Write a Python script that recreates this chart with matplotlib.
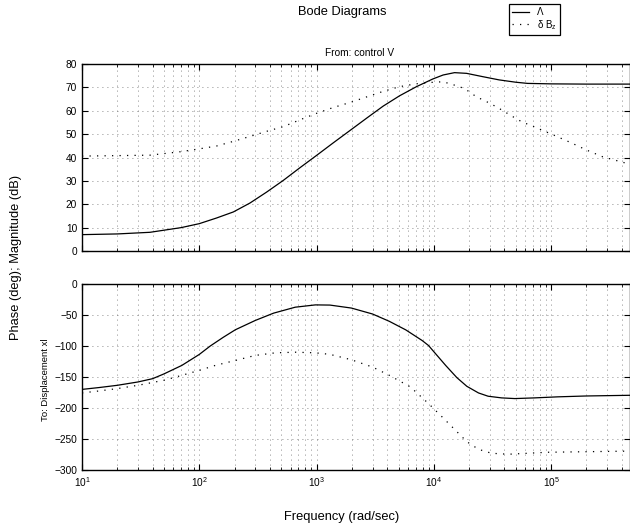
import numpy as np
import matplotlib
matplotlib.use('Agg')
import matplotlib.pyplot as plt
from matplotlib.ticker import LogLocator, NullFormatter

plt.rcParams['font.family'] = ['Liberation Sans', 'DejaVu Sans']
plt.rcParams['mathtext.fontset'] = 'custom'
plt.rcParams['mathtext.rm'] = 'Liberation Sans'
plt.rcParams['mathtext.it'] = 'Liberation Sans:italic'

# Magnitude (dB), solid curve "Lambda"
f_mag_a = [10, 20, 38, 70, 100, 140, 195, 270, 375, 520, 720, 1000, 1390, 1920,
           2700, 3700, 5100, 7100, 9800, 12000, 15000, 19000, 26000, 36000,
           50000, 63000, 1e5, 2e5, 4.7e5]
mag_a = [7.0, 7.3, 8.0, 10.0, 11.7, 14.1, 16.7, 20.5, 25.2, 30.2, 35.6, 40.9, 46.3, 51.5,
         57.0, 62.0, 66.4, 70.3, 73.6, 75.3, 76.3, 76.0, 74.6, 73.2,
         72.2, 71.7, 71.5, 71.4, 71.4]

# Magnitude (dB), dotted curve "delta B_z"
f_mag_b = [10, 20, 38, 70, 100, 140, 195, 270, 375, 520, 720, 1000, 1390, 1920,
           2700, 3700, 5100, 7000, 9900, 12000, 16600, 19000, 23000, 30000, 36000,
           47000, 56000, 71000, 1.05e5, 1.45e5, 2e5, 2.75e5, 4.4e5, 4.7e5]
mag_b = [40.6, 40.8, 41.0, 42.5, 43.7, 44.9, 46.9, 49.0, 51.2, 53.2, 56.1, 58.9, 61.4, 63.5,
         66.0, 68.3, 70.3, 71.5, 72.2, 72.4, 70.3, 68.9, 66.0, 63.2, 61.0,
         57.5, 55.3, 53.2, 49.6, 46.5, 43.2, 40.3, 37.5, 37.0]

# Phase (deg), solid curve
f_ph_a = [10, 14, 20, 30, 40, 50, 71, 100, 124, 160, 203, 300, 430, 658, 977, 1300, 1980,
          3000, 4170, 5760, 7950, 9000, 12600, 15700, 19100, 24000, 29000, 37800,
          49000, 72000, 1.14e5, 2e5, 4.7e5]
ph_a = [-170, -167, -163.4, -158, -152.7, -145, -131.3, -113.6, -100, -86, -73.8, -58.8, -47,
        -37.4, -33.7, -34, -38.8, -48.4, -60.2, -74, -91.2, -99.2, -131.3, -151, -165,
        -175.7, -181, -183.7, -184.8, -183.7, -182, -180.6, -179.5]

# Phase (deg), dotted curve
f_ph_b = [10, 14, 20, 30, 50, 71, 100, 137, 203, 300, 445, 658, 977, 1300, 1980, 3000,
          4170, 6300, 9000, 11700, 15200, 19100, 24000, 31000, 43000, 63000, 93000,
          2e5, 4.7e5]
ph_b = [-175.7, -172.5, -168.7, -163.4, -155.3, -147.3, -139.3, -131.3, -123.3, -115.2,
        -111, -110, -111, -113.5, -122.2, -134, -147.3, -166, -192.8, -214, -235.5,
        -254.3, -266.6, -273, -274.6, -273, -271.4, -270.5, -269.5]

W, H = 630, 527
fig = plt.figure(figsize=(W / 100, H / 100), dpi=100)
ax1 = fig.add_axes([82 / W, 1 - 251 / H, 548 / W, 187 / H])
ax2 = fig.add_axes([82 / W, 1 - 470 / H, 548 / W, 186 / H])

dot_style = (0, (1, 5))
grid_style = (0, (1, 5))

l1, = ax1.plot(f_mag_a, mag_a, color='k', lw=0.9, label='\u039b')
l2, = ax1.plot(f_mag_b, mag_b, color='k', lw=0.9, linestyle=dot_style,
               label=r'$\mathregular{\delta\ B_z}$')
ax2.plot(f_ph_a, ph_a, color='k', lw=0.9)
ax2.plot(f_ph_b, ph_b, color='k', lw=0.9, linestyle=dot_style)

for ax in (ax1, ax2):
    ax.set_xscale('log')
    ax.set_xlim(10, 4.7e5)
    ax.xaxis.set_major_locator(LogLocator(base=10))
    ax.xaxis.set_minor_locator(LogLocator(base=10, subs=np.arange(2, 10)))
    ax.xaxis.set_minor_formatter(NullFormatter())
    ax.grid(True, which='major', color='0.4', lw=0.6, linestyle=grid_style)
    ax.grid(True, which='minor', axis='x', color='0.4', lw=0.6, linestyle=grid_style)
    ax.tick_params(which='both', direction='in', top=True, right=True, labelsize=7.3)
    ax.tick_params(which='major', length=4)
    ax.tick_params(which='minor', length=2)
    for sp in ax.spines.values():
        sp.set_linewidth(1.0)

ax1.set_ylim(0, 80)
ax1.set_yticks(np.arange(0, 81, 10))
ax1.tick_params(labelbottom=False)
ax2.set_ylim(-300, 0)
ax2.set_yticks(np.arange(-300, 1, 50))

fig.text(342 / W, 1 - 12 / H, 'Bode Diagrams', ha='center', va='center', fontsize=9.3)
fig.text(360 / W, 1 - 53 / H, 'From: control V', ha='center', va='center', fontsize=7.3)
fig.text(342 / W, 1 - 517 / H, 'Frequency (rad/sec)', ha='center', va='center', fontsize=9.3)
fig.text(16 / W, 1 - 257 / H, 'Phase (deg); Magnitude (dB)', ha='center', va='center',
         rotation=90, fontsize=9.3)
fig.text(45 / W, 1 - 380 / H, 'To: Displacement xl', ha='center', va='center',
         rotation=90, fontsize=6.8)

leg = fig.legend(handles=[l1, l2], loc='upper left', bbox_to_anchor=(509 / W, 1 - 4 / H),
                 fontsize=7, frameon=True, fancybox=False, framealpha=1,
                 edgecolor='k', handlelength=1.8, handletextpad=0.8,
                 borderpad=0.3, labelspacing=0.1, borderaxespad=0)
leg.get_frame().set_linewidth(0.9)

fig.savefig('out.png', dpi=100)
